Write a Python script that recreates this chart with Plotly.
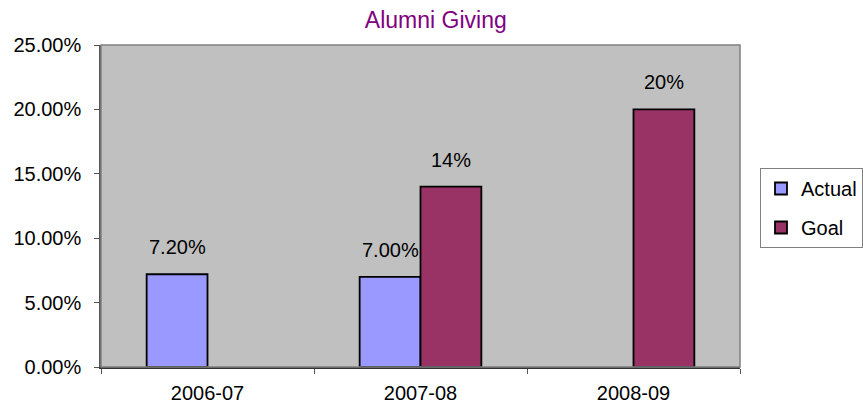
import plotly.graph_objects as go

categories = ["2006-07", "2007-08", "2008-09"]
actual = [0.072, 0.070, None]
goal = [None, 0.14, 0.20]
actual_labels = ["7.20%", "7.00%", ""]
goal_labels = ["", "14%", "20%"]

FONT = "Liberation Sans, Arial, sans-serif"

fig = go.Figure()
fig.add_trace(go.Bar(
    name="Actual", x=categories, y=actual, legendgroup="a",
    marker=dict(color="#9999FF", line=dict(color="black", width=1.8)),
))
fig.add_trace(go.Bar(
    name="Goal", x=categories, y=goal, legendgroup="g",
    marker=dict(color="#993366", line=dict(color="black", width=1.8)),
))

# data labels above each bar (offset to the bar's side of the group)
BAR_PX = 30.5
for vals, labels, side in ((actual, actual_labels, -1), (goal, goal_labels, 1)):
    for c, v, t in zip(categories, vals, labels):
        if v is None or not t:
            continue
        fig.add_annotation(x=c, y=v, xref="x", yref="y", text=t, showarrow=False,
                           xshift=side * BAR_PX, yshift=27, yanchor="middle",
                           font=dict(size=20, color="black", family=FONT))

fig.update_layout(
    width=863, height=409,
    margin=dict(l=101, r=123, t=45, b=42, autoexpand=False),
    paper_bgcolor="white", plot_bgcolor="#C0C0C0",
    barmode="group", bargap=0.4286, bargroupgap=0,
    font=dict(family=FONT, size=20, color="black"),
    title=dict(text="Alumni Giving", x=0.505, xref="container", xanchor="center",
               y=1 - 20 / 409, yref="container", yanchor="middle",
               font=dict(size=23, color="#800080", family=FONT)),
    legend=dict(x=760 / 863, y=1 - 168 / 409, xref="container", yref="container",
                xanchor="left", yanchor="top",
                bgcolor="white", bordercolor="#808080", borderwidth=1,
                font=dict(size=20, family=FONT), itemwidth=30,
                traceorder="grouped", tracegroupgap=10),
    showlegend=True,
)
fig.update_yaxes(range=[0, 0.25], dtick=0.05, tickformat=".2%",
                 showgrid=False, zeroline=False, showline=True,
                 linecolor="#555555", linewidth=1.5, automargin=False,
                 ticks="outside", ticklen=5, tickcolor="#555555",
                 ticklabelstandoff=9, tickfont=dict(size=20))
fig.update_xaxes(type="category", showgrid=False, showline=True,
                 linecolor="#333333", linewidth=1.5, automargin=False,
                 ticks="outside", ticklen=5, tickcolor="#555555", tickson="boundaries",
                 ticklabelstandoff=7, tickfont=dict(size=20))
# plot-area border (top/right)
fig.add_shape(type="rect", xref="paper", yref="paper", x0=0, y0=0, x1=1, y1=1,
              line=dict(color="#808080", width=1.5), layer="above")

fig.write_html("out.html", config={"displayModeBar": False},
               post_script="document.body.style.margin='0';document.body.style.overflow='hidden';")
